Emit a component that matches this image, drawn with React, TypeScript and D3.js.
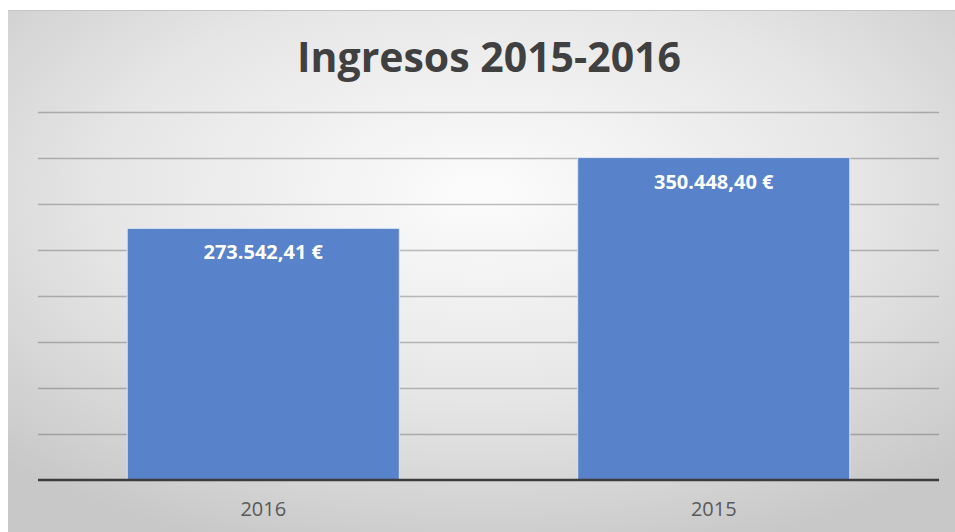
import React, { useRef, useEffect } from 'react';
import * as d3 from 'd3';

// chart data
const categories = ['2016', '2015'];
const values = [273542.41, 350448.4];
const valueLabels = ['273.542,41 €', '350.448,40 €'];
const gridTicks = [0, 50000, 100000, 150000, 200000, 250000, 300000, 350000, 400000];
const title = 'Ingresos 2015-2016';

const W = 955;
const H = 532;

const App = () => {
    const svgRef = useRef<SVGSVGElement | null>(null);

    useEffect(() => {
        const svg = d3.select(svgRef.current);
        svg.selectAll('*').remove();

        const font = '"Open Sans", "Liberation Sans", sans-serif';

        // Background with soft radial gradient
        const defs = svg.append('defs');
        const grad = defs.append('radialGradient')
            .attr('id', 'bg')
            .attr('cx', '50%')
            .attr('cy', '35%')
            .attr('r', '72%');
        grad.append('stop').attr('offset', '0%').attr('stop-color', '#fcfcfc');
        grad.append('stop').attr('offset', '55%').attr('stop-color', '#e6e6e6');
        grad.append('stop').attr('offset', '100%').attr('stop-color', '#c8c8c8');

        svg.append('rect')
            .attr('x', 8).attr('y', 10)
            .attr('width', W - 8).attr('height', H - 10)
            .attr('fill', 'url(#bg)');
        svg.append('line')
            .attr('x1', 8).attr('x2', W).attr('y1', 10.5).attr('y2', 10.5)
            .attr('stroke', '#c4c4c4').attr('stroke-width', 1);

        const left = 38, right = 939, top = 112, bottom = 480;

        const x = d3.scaleBand<string>()
            .domain(categories)
            .range([left, right])
            .paddingInner(0.396)
            .paddingOuter(0.198);

        const y = d3.scaleLinear()
            .domain([0, 400000])
            .range([bottom, top]);

        // Gridlines
        svg.append('g')
            .selectAll('line')
            .data(gridTicks.slice(1))
            .enter()
            .append('line')
            .attr('x1', left).attr('x2', right)
            .attr('y1', d => Math.round(y(d)) + 0.5)
            .attr('y2', d => Math.round(y(d)) + 0.5)
            .attr('stroke', 'rgba(70,70,70,0.34)')
            .attr('stroke-width', 1.5);

        // Bars
        svg.append('g')
            .selectAll('rect')
            .data(values)
            .enter()
            .append('rect')
            .attr('x', (d, i) => x(categories[i]) as number)
            .attr('y', d => y(d))
            .attr('width', x.bandwidth())
            .attr('height', d => bottom - y(d))
            .attr('fill', '#5882c9')
            .attr('stroke', '#dbe6f5')
            .attr('stroke-width', 1);

        // Axis line
        svg.append('line')
            .attr('x1', left).attr('x2', right)
            .attr('y1', bottom).attr('y2', bottom)
            .attr('stroke', '#3c3c3c')
            .attr('stroke-width', 2.5);

        // Value labels
        svg.append('g')
            .selectAll('text')
            .data(values)
            .enter()
            .append('text')
            .attr('x', (d, i) => (x(categories[i]) as number) + x.bandwidth() / 2)
            .attr('y', d => y(d) + 31)
            .attr('text-anchor', 'middle')
            .style('font-family', font)
            .style('font-weight', 'bold')
            .style('font-size', '20px')
            .style('fill', '#ffffff')
            .text((d, i) => valueLabels[i]);

        // Category labels
        svg.append('g')
            .selectAll('text')
            .data(categories)
            .enter()
            .append('text')
            .attr('x', d => (x(d) as number) + x.bandwidth() / 2)
            .attr('y', 516)
            .attr('text-anchor', 'middle')
            .style('font-family', font)
            .style('font-size', '20px')
            .style('fill', '#595959')
            .text(d => d);

        // Title
        svg.append('text')
            .attr('x', 489)
            .attr('y', 72)
            .attr('text-anchor', 'middle')
            .style('font-family', font)
            .style('font-weight', 'bold')
            .style('font-size', '41px')
            .style('fill', '#404040')
            .text(title);
    }, []);

    return (
        <svg
            ref={svgRef}
            width={W}
            height={H}
            style={{ position: 'absolute', left: 0, top: 0, display: 'block', background: '#ffffff' }}
        />
    );
};

export default App;
